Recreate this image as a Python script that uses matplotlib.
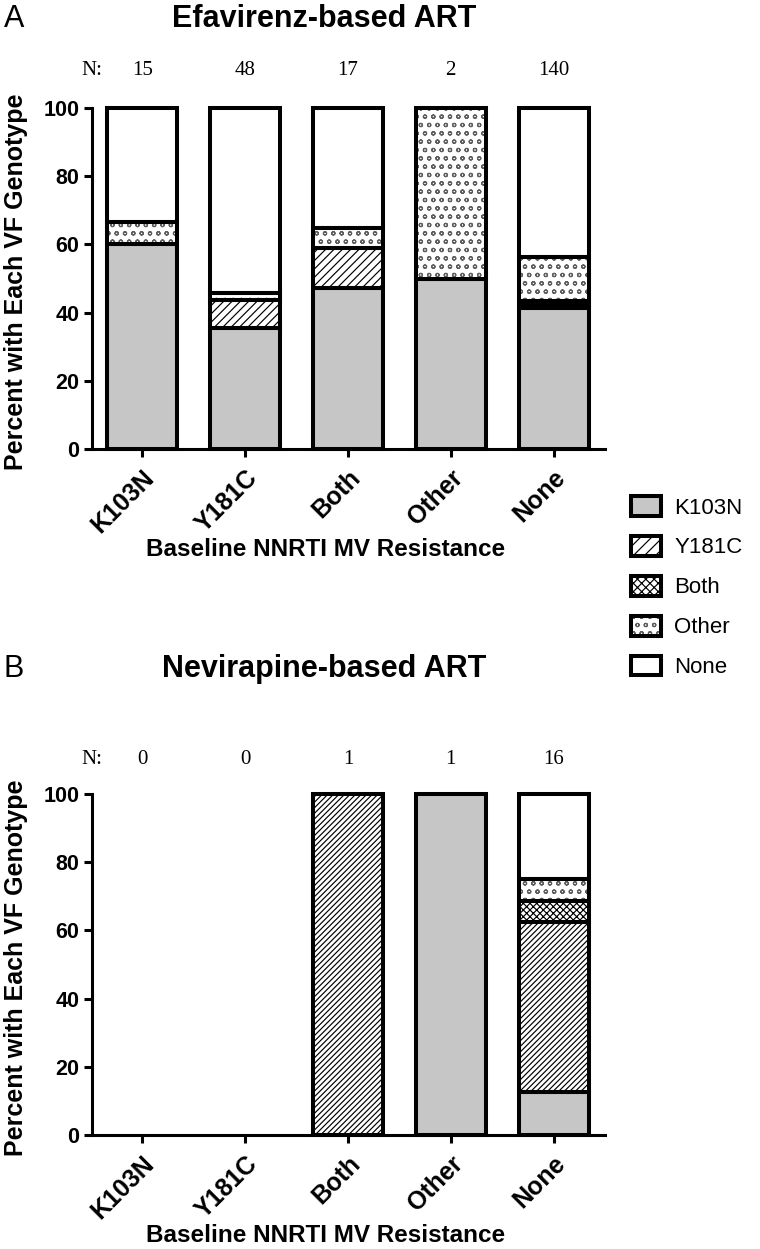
import numpy as np
import matplotlib
matplotlib.use("Agg")
import matplotlib.pyplot as plt
import matplotlib.transforms as mtransforms
from matplotlib.patches import Patch
from matplotlib.legend_handler import HandlerTuple

plt.rcParams['font.family'] = ['Liberation Sans', 'DejaVu Sans']
plt.rcParams['hatch.linewidth'] = 0.85

# ---------------- data ----------------
categories = ['K103N', 'Y181C', 'Both', 'Other', 'None']   # baseline NNRTI MV resistance
genotypes = ['K103N', 'Y181C', 'Both', 'Other', 'None']    # VF genotype (stack order)

# Panel A: Efavirenz-based ART (percent with each VF genotype)
efv_n = [15, 48, 17, 2, 140]
efv_K103N = [60.0, 35.4, 47.1, 50.0, 41.4]
efv_Y181C = [0.0, 8.3, 11.8, 0.0, 0.7]
efv_Both = [0.0, 0.0, 0.0, 0.0, 1.4]
efv_Other = [6.7, 2.1, 5.9, 50.0, 12.9]
efv_None = [33.3, 54.2, 35.2, 0.0, 43.6]

# Panel B: Nevirapine-based ART
nvp_n = [0, 0, 1, 1, 16]
nvp_K103N = [0.0, 0.0, 0.0, 100.0, 12.5]
nvp_Y181C = [0.0, 0.0, 100.0, 0.0, 50.0]
nvp_Both = [0.0, 0.0, 0.0, 0.0, 6.25]
nvp_Other = [0.0, 0.0, 0.0, 0.0, 6.25]
nvp_None = [0.0, 0.0, 0.0, 0.0, 25.0]

yticks = [0, 20, 40, 60, 80, 100]

# ---------------- styles ----------------
face = {'K103N': '#c6c6c6', 'Y181C': 'white', 'Both': 'white', 'Other': 'white', 'None': 'white'}
hatch_col = {'K103N': '#c6c6c6', 'Y181C': 'black', 'Both': 'black', 'Other': '#5e5e5e', 'None': 'white'}
hatch_A = {'K103N': '', 'Y181C': '////', 'Both': 'xxxxx', 'Other': 'oo', 'None': ''}
hatch_B = {'K103N': '', 'Y181C': '//////', 'Both': 'xxxxx', 'Other': 'oo', 'None': ''}
hatch_leg = {'K103N': '', 'Y181C': '///', 'Both': 'xxxx', 'Other': 'oo', 'None': ''}

EDGE_LW = 2.9
SPINE_LW = 2.2
W, H = 760, 1249

fig = plt.figure(figsize=(W / 100, H / 100), dpi=100)
axA = fig.add_axes([92 / W, 1 - 449 / H, 513 / W, 341 / H])
axB = fig.add_axes([92 / W, 1 - 1135 / H, 513 / W, 341 / H])


def draw(ax, series, hatches, nvals, n_y):
    x = np.arange(len(categories))
    bottom = np.zeros(len(categories))
    for g, vals in zip(genotypes, series):
        vals = np.asarray(vals, dtype=float)
        ax.bar(x, vals, 0.68, bottom=bottom, facecolor=face[g], hatch=hatches[g],
               edgecolor=hatch_col[g], linewidth=0, zorder=2)
        lw = np.where(vals > 0, EDGE_LW, 0.0)
        ax.bar(x, vals, 0.68, bottom=bottom, facecolor='none', edgecolor='black',
               linewidth=lw, zorder=3, clip_on=False)
        bottom += vals
    ax.set_xlim(-0.49, 4.5)
    ax.set_ylim(0, 100)
    for s in ['top', 'right']:
        ax.spines[s].set_visible(False)
    for s in ['left', 'bottom']:
        ax.spines[s].set_linewidth(SPINE_LW)
    ax.set_yticks(yticks, [str(t) for t in yticks], fontweight='bold', fontsize=15.5)
    ax.set_xticks(x, categories, rotation=45, ha='right', rotation_mode='anchor',
                  fontweight='bold', fontsize=18)
    ax.tick_params(axis='both', width=SPINE_LW, length=6, pad=3)
    ax.tick_params(axis='x', pad=6)
    ax.set_ylabel('Percent with Each VF Genotype', fontsize=18, fontweight='bold')
    ax.yaxis.set_label_coords(-0.125, 0.49)
    ax.set_xlabel('Baseline NNRTI MV Resistance', fontsize=17.5, fontweight='bold')
    ax.xaxis.set_label_coords(0.456, -0.262)
    tr = mtransforms.blended_transform_factory(ax.transData, ax.transAxes)
    ax.text(-0.49, n_y, 'N:', transform=tr, ha='center', va='center',
            family='Liberation Serif', fontsize=15)
    for i, n in enumerate(nvals):
        ax.text(i, n_y, str(n), transform=tr, ha='center', va='center',
                family='Liberation Serif', fontsize=15)


draw(axA, [efv_K103N, efv_Y181C, efv_Both, efv_Other, efv_None], hatch_A, efv_n, 1.11)
draw(axB, [nvp_K103N, nvp_Y181C, nvp_Both, nvp_Other, nvp_None], hatch_B, nvp_n, 1.10)

# titles and panel letters
fig.text(324 / W, 1 - 19 / H, 'Efavirenz-based ART', ha='center', va='center',
         fontsize=22, fontweight='bold')
fig.text(324 / W, 1 - 669 / H, 'Nevirapine-based ART', ha='center', va='center',
         fontsize=22, fontweight='bold')
fig.text(4 / W, 1 - 19 / H, 'A', ha='left', va='center', fontsize=22)
fig.text(4 / W, 1 - 669 / H, 'B', ha='left', va='center', fontsize=22)

# legend
handles = []
for g in genotypes:
    h1 = Patch(facecolor=face[g], hatch=hatch_leg[g], edgecolor=hatch_col[g], linewidth=0)
    h2 = Patch(facecolor='none', edgecolor='black', linewidth=EDGE_LW, joinstyle='round')
    handles.append((h1, h2))
fig.legend(handles, genotypes, loc='upper left', bbox_to_anchor=(631 / W, 1 - 496 / H),
           frameon=False, fontsize=16, handlelength=1.35, handleheight=1.0,
           handletextpad=0.6, labelspacing=0.78, borderpad=0, borderaxespad=0,
           handler_map={tuple: HandlerTuple(ndivide=1, pad=0)})

fig.savefig('out.png', dpi=100)
